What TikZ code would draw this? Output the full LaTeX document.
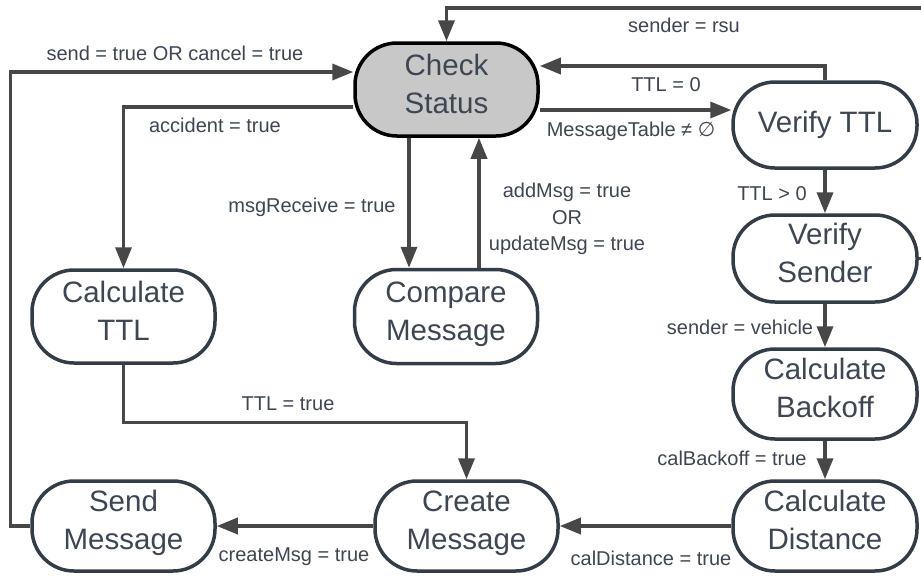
\documentclass[tikz,border=0pt]{standalone}
\usepackage{fontspec}
\setmainfont{Liberation Sans}
\newfontfamily\symfnt{DejaVu Sans}
\usetikzlibrary{arrows.meta}
\definecolor{edgecol}{HTML}{474747}
\definecolor{bordercol}{HTML}{333D47}
\definecolor{txtcol}{HTML}{3D4652}
\definecolor{csfill}{HTML}{C8C8C8}
\tikzset{
  state/.style={rectangle, rounded corners=42pt, draw=bordercol, line width=3.5pt,
    fill=white, minimum width=183pt, minimum height=90pt, inner sep=0pt,
    align=center, text=txtcol, font=\fontsize{29.5}{38}\selectfont},
  twoline/.style={text height=55pt, text depth=8pt},
  arr/.style={draw=edgecol, line width=3.5pt, -{Triangle[length=21pt,width=16pt]}},
  lbl/.style={text=txtcol, font=\fontsize{20}{26.5}\selectfont, inner sep=0pt, align=center}
}
\begin{document}
\begin{tikzpicture}[x=1pt,y=-1pt]
\clip (0,0) rectangle (921,576);
\fill[white] (0,0) rectangle (921,576);
% nodes
\node[state, twoline, fill=csfill, draw=black, minimum height=93pt] (cs) at (446.5,89.5) {Check\\Status};
\node[state, minimum height=86pt, minimum width=184pt] (vttl) at (825,125) {Verify TTL};
\node[state, twoline, minimum height=87pt, minimum width=184pt] (vs) at (825,258.5) {Verify\\Sender};
\node[state, twoline, minimum width=184pt] (cb) at (825,394) {Calculate\\Backoff};
\node[state, twoline, minimum width=184pt] (cd) at (825,526) {Calculate\\Distance};
\node[state, twoline] (cm) at (466.5,526) {Create\\Message};
\node[state, twoline] (sm) at (123.5,526) {Send\\Message};
\node[state, twoline, minimum height=93pt] (ct) at (123.5,316.5) {Calculate\\TTL};
\node[state, twoline, minimum height=94pt] (cmp) at (446,316.5) {Compare\\Message};
% connectors
\coordinate (tr) at (945,8);
\draw[arr] (vs.east) -| (tr) -| (cs.north);
\draw[arr] (sm.west) -- ++(-20,0) |- ([yshift=17.5pt]cs.west);
\draw[arr] ([yshift=-17.5pt]cs.west) -| (ct.north);
\draw[arr] ([xshift=-37.5pt]cs.south) -- ([xshift=-37.5pt]cs.south |- cmp.north);
\draw[arr] ([xshift=32.5pt]cs.south |- cmp.north) -- ([xshift=32.5pt]cs.south);
\draw[arr] ([yshift=-20.5pt]cs.east) -- ([yshift=-20.5pt]cs.east -| vttl.west);
\draw[arr] (vttl.north) |- ([yshift=23.5pt]cs.east);
\draw[arr] (vttl.south) -- (vs.north);
\draw[arr] (vs.south) -- (cb.north);
\draw[arr] (cb.south) -- (cd.north);
\draw[arr] (cd.west) -- (cm.east);
\draw[arr] (cm.west) -- (sm.east);
\draw[arr] (ct.south) -- ++(0,57.5) -| (cm.north);
% labels
\node[lbl] (l1) at (175,53) {send = true OR cancel = true};
\node[lbl] (l2) at (215,125) {accident = true};
\node[lbl] (l3) at (312,207) {msgReceive = true};
\node[lbl] (l4) at (567,219) {addMsg = true\\OR\\updateMsg = true};
\node[lbl] (l5) at (684,25) {sender = rsu};
\node[lbl] (l6) at (666,85) {TTL = 0};
\node[lbl] (l7) at (631,131) {MessageTable ≠ {\symfnt ∅}};
\node[lbl] (l8) at (772,194) {TTL > 0};
\node[lbl] (l9) at (740,327) {sender = vehicle};
\node[lbl] (l10) at (732,458) {calBackoff = true};
\node[lbl] (l11) at (651,558) {calDistance = true};
\node[lbl] (l12) at (294,557) {createMsg = true};
\node[lbl] (l13) at (288,404) {TTL = true};
\end{tikzpicture}
\end{document}
